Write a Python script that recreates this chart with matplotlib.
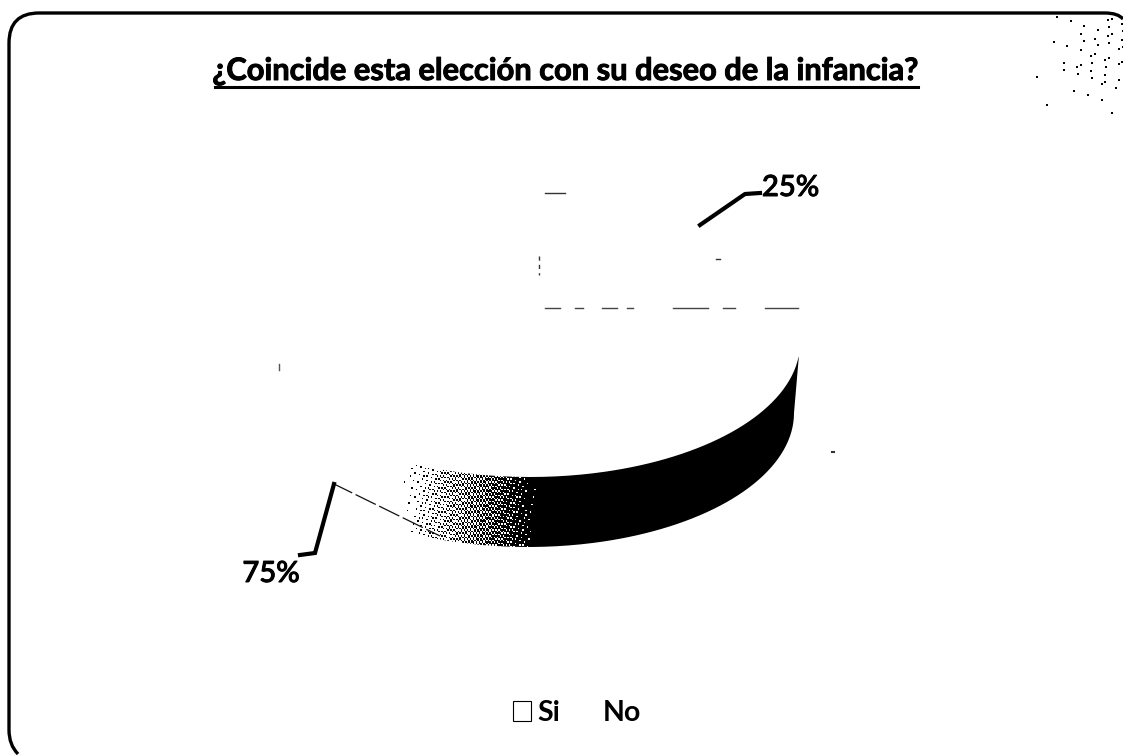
import numpy as np
import matplotlib
matplotlib.use("Agg")
import matplotlib.pyplot as plt
import matplotlib.patheffects as pe
from matplotlib.patches import PathPatch, Patch
from matplotlib.path import Path

categories = ["Si", "No"]
shares = [75, 25]
share_labels = ["75%", "25%"]
title = "¿Coincide esta elección con su deseo de la infancia?"

W, H = 1123, 755
FONT = ["Lato", "DejaVu Sans"]
fig = plt.figure(figsize=(W / 100, H / 100), dpi=100, facecolor="white")
heavy = [pe.withStroke(linewidth=0.7, foreground="black")]

# pixel-coordinate overlay
ov = fig.add_axes([0, 0, 1, 1])
ov.set_xlim(0, W)
ov.set_ylim(H, 0)
ov.axis("off")

# rounded frame (right and bottom edges fall outside the scan)
frame = Path(
    [(18, 754), (9, 745), (9, 730), (9, 43), (9, 13), (39, 13), (1105, 13), (1118, 13), (1123, 19)],
    [Path.MOVETO, Path.CURVE3, Path.CURVE3, Path.LINETO, Path.CURVE3, Path.CURVE3,
     Path.LINETO, Path.CURVE3, Path.CURVE3],
)
ov.add_patch(PathPatch(frame, fc="none", ec="black", lw=2.4, zorder=1))

# pie: white faces, drawn by the library from the shares
CX, CY, RX, RY, DEPTH = 530, 343, 270, 134, 70
pa = fig.add_axes([(CX - RX) / W, 1 - (CY + RY) / H, 2 * RX / W, 2 * RY / H], zorder=0)
pa.pie(shares, colors=["white", "white"], startangle=90, counterclock=True, radius=1)
pa.set_aspect("auto")
pa.set_xlim(-1, 1)
pa.set_ylim(-1, 1)
pa.patch.set_alpha(0)
ov.set_zorder(1)
ov.patch.set_alpha(0)

# side band of the front slice, fading out to the left
th = np.radians(np.linspace(201, 360, 240))
ex = CX + RX * np.cos(th)
top = CY - RY * np.sin(th)
bex = CX - 2 + (RX - 4) * np.cos(th)
bot = CY + DEPTH - RY * np.sin(th)
verts = np.r_[np.c_[ex, top], np.c_[bex[::-1], bot[::-1]], [[ex[0], top[0]]]]
band = PathPatch(Path(verts), fc="none", ec="none")
ov.add_patch(band)

YT, YB = 357, 552
xs = np.arange(395, 802, 1.5)
ys = np.arange(YT, YB, 1.5)
gx, gy = np.meshgrid(np.arange(xs.size), np.arange(ys.size))
thresh = (52.9829189 * ((0.06711056 * gx + 0.00583715 * gy) % 1)) % 1
fade = np.clip((xs - 403) / (535 - 403), 0, 1)[None, :] ** 1.1
img = (fade > thresh).astype(float)
im = ov.imshow(1 - img, cmap="gray", vmin=0, vmax=1, extent=(395, 802, YB, YT),
               aspect="auto", interpolation="nearest", zorder=2)
im.set_clip_path(band)
ov.set_xlim(0, W)
ov.set_ylim(H, 0)

# faint slice edges surviving in the scan
for a, b in [(545, 560), (575, 583), (602, 617), (627, 633), (673, 708), (723, 735), (765, 798)]:
    ov.plot([a, b], [308, 308], color="#444444", lw=1, zorder=3)
ov.plot([545, 565], [193, 193], color="#333333", lw=1, zorder=3)
ov.plot([539, 539], [256, 275], color="#333333", lw=1, dashes=(3, 3), zorder=3)
ov.plot([716, 720], [259, 259], color="#333333", lw=1, zorder=3)
ov.plot([279, 279], [364, 370], color="#555555", lw=1, zorder=3)
ov.plot([832, 834], [452, 452], color="#333333", lw=1.5, zorder=3)
ov.plot([332, 440], [483, 536], color="#111111", lw=0.9, dashes=(18, 3), zorder=3)

# leaders and value labels
ov.plot([700, 745, 760], [225, 194, 193], color="black", lw=3, solid_joinstyle="round", zorder=4)
ov.plot([334, 315, 300], [484, 553, 555], color="black", lw=3, solid_joinstyle="miter", zorder=4)
ov.text(790.5, 188, share_labels[1], family=FONT, fontsize=21, fontweight="medium", ha="center",
        va="center", color="black", zorder=5, path_effects=heavy)
ov.text(271, 574, share_labels[0], family=FONT, fontsize=21, fontweight="medium", ha="center",
        va="center", color="black", zorder=5, path_effects=heavy)

# title with underline
ov.text(566.5, 71, title, family=FONT, fontsize=22.2, fontweight="bold", ha="center",
        va="center", color="black", zorder=5, path_effects=heavy)
ov.plot([215, 918], [87, 87], color="black", lw=2.2, zorder=5)

# legend
handles = [Patch(fc="white", ec="black", lw=0.8), Patch(fc="none", ec="none")]
leg = ov.legend(handles, categories, ncol=2, frameon=False, loc="center",
                bbox_to_anchor=(577 / W, 1 - 713 / H),
                prop={"family": FONT, "size": 20.5, "weight": "bold"},
                handlelength=0.65, handleheight=0.65, handletextpad=0.2, columnspacing=0.65)

# scan specks in the upper right corner
idx = np.arange(1, 900)
sx = 1030 + 93 * ((idx * 0.7548776662) % 1)
sy = 16 + 125 * ((idx * 0.5698402910) % 1)
dens = np.exp(-(((sx - 1110) / 50) ** 2 + ((sy - 42) / 55) ** 2))
keep = ((idx * 0.6180339887) % 1) < dens * 0.16
ov.scatter(sx[keep], sy[keep], s=4, marker="s", color="black", lw=0, zorder=3)

fig.savefig("out.png", dpi=100)
